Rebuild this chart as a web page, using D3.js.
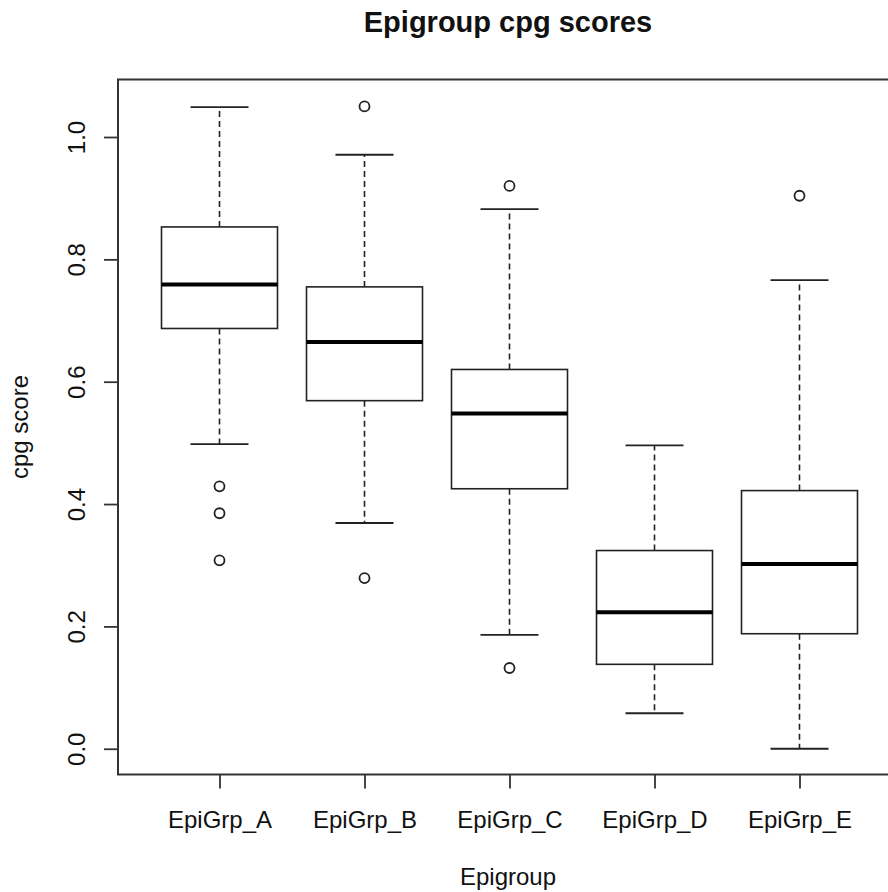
<!DOCTYPE html>
<html>
<head>
<meta charset="utf-8">
<script src="https://cdn.jsdelivr.net/npm/d3@7"></script>
<style>
  html, body { margin: 0; padding: 0; background: #fff; }
  svg { display: block; }
  text { font-family: "Liberation Sans", Arial, Helvetica, sans-serif; fill: #111; }
</style>
</head>
<body>
<svg id="chart" width="888" height="892"></svg>
<script>
// ---- data ----
const categories = ["EpiGrp_A", "EpiGrp_B", "EpiGrp_C", "EpiGrp_D", "EpiGrp_E"];
const lowerWhisker = [0.498, 0.369, 0.186, 0.058, 0.000];
const quartile1    = [0.687, 0.569, 0.425, 0.138, 0.188];
const medians      = [0.759, 0.665, 0.548, 0.223, 0.302];
const quartile3    = [0.853, 0.755, 0.620, 0.324, 0.422];
const upperWhisker = [1.049, 0.971, 0.882, 0.496, 0.766];
const outliers     = [[0.429, 0.385, 0.308], [1.050, 0.279], [0.920, 0.132], [], [0.904]];
const yTicks = [0.0, 0.2, 0.4, 0.6, 0.8, 1.0];
const titleText = "Epigroup cpg scores";
const xTitle = "Epigroup";
const yTitle = "cpg score";

const boxes = categories.map((c, i) => ({
  name: c, pos: i + 1,
  lo: lowerWhisker[i], q1: quartile1[i], med: medians[i], q3: quartile3[i], hi: upperWhisker[i],
  out: outliers[i]
}));

const svg = d3.select("#chart");
const plotL = 118, plotR = 901, plotT = 79.5, plotB = 774.5;

const x = d3.scaleLinear().domain([0.3, 5.7]).range([plotL, plotR]);
const y = d3.scaleLinear().domain([-0.0421, 1.094]).range([plotB, plotT]);

const boxHalf = 0.4, capHalf = 0.2;
const ink = "#222";

// boxes
const g = svg.append("g");
boxes.forEach(b => {
  const cx = x(b.pos);
  // whiskers (dashed)
  g.append("line").attr("x1", cx).attr("x2", cx).attr("y1", y(b.q3)).attr("y2", y(b.hi))
    .attr("stroke", ink).attr("stroke-width", 1.6).attr("stroke-dasharray", "6,4");
  g.append("line").attr("x1", cx).attr("x2", cx).attr("y1", y(b.q1)).attr("y2", y(b.lo))
    .attr("stroke", ink).attr("stroke-width", 1.6).attr("stroke-dasharray", "6,4");
  // caps
  [b.hi, b.lo].forEach(v => {
    g.append("line").attr("x1", x(b.pos - capHalf)).attr("x2", x(b.pos + capHalf))
      .attr("y1", y(v)).attr("y2", y(v))
      .attr("stroke", ink).attr("stroke-width", 1.8);
  });
  // box
  g.append("rect")
    .attr("x", x(b.pos - boxHalf)).attr("width", x(b.pos + boxHalf) - x(b.pos - boxHalf))
    .attr("y", y(b.q3)).attr("height", y(b.q1) - y(b.q3))
    .attr("fill", "#fff").attr("stroke", ink).attr("stroke-width", 1.6);
  // median
  g.append("line").attr("x1", x(b.pos - boxHalf)).attr("x2", x(b.pos + boxHalf))
    .attr("y1", y(b.med)).attr("y2", y(b.med))
    .attr("stroke", "#000").attr("stroke-width", 4);
  // outliers
  b.out.forEach(v => {
    g.append("circle").attr("cx", cx).attr("cy", y(v)).attr("r", 5)
      .attr("fill", "none").attr("stroke", ink).attr("stroke-width", 1.8);
  });
});

// frame
svg.append("rect").attr("x", plotL).attr("y", plotT).attr("width", plotR - plotL).attr("height", plotB - plotT)
  .attr("fill", "none").attr("stroke", "#333").attr("stroke-width", 2);

// y axis
const yAxis = d3.axisLeft(y).tickValues(yTicks).tickFormat(d3.format(".1f")).tickSize(14).tickPadding(0);
const ya = svg.append("g").attr("transform", `translate(${plotL},0)`).call(yAxis);
ya.select(".domain").remove();
ya.selectAll(".tick line").attr("stroke", "#333").attr("stroke-width", 1.8);
ya.selectAll(".tick text").remove();
ya.selectAll(".tick").append("text")
  .attr("transform", "translate(-41,0) rotate(-90)")
  .attr("text-anchor", "middle").attr("dy", "0.35em")
  .style("font-size", "24px").attr("fill", "#111").text(d => d3.format(".1f")(d));

// x axis
const xAxis = d3.axisBottom(x).tickValues(boxes.map(b => b.pos)).tickFormat((d, i) => categories[i]).tickSize(14).tickPadding(0);
const xa = svg.append("g").attr("transform", `translate(0,${plotB})`).call(xAxis);
xa.select(".domain").remove();
xa.selectAll(".tick line").attr("stroke", "#333").attr("stroke-width", 1.8);
xa.selectAll(".tick text").attr("y", 53).attr("dy", null).style("font-size", "24px").attr("fill", "#111");

// titles
svg.append("text").attr("x", 508).attr("y", 32).attr("text-anchor", "middle")
  .style("font-size", "29px").style("font-weight", "bold").text(titleText);
svg.append("text").attr("x", 508).attr("y", 885).attr("text-anchor", "middle")
  .style("font-size", "24px").text(xTitle);
svg.append("text").attr("transform", "translate(28,427) rotate(-90)").attr("text-anchor", "middle")
  .style("font-size", "24px").text(yTitle);
</script>
</body>
</html>
